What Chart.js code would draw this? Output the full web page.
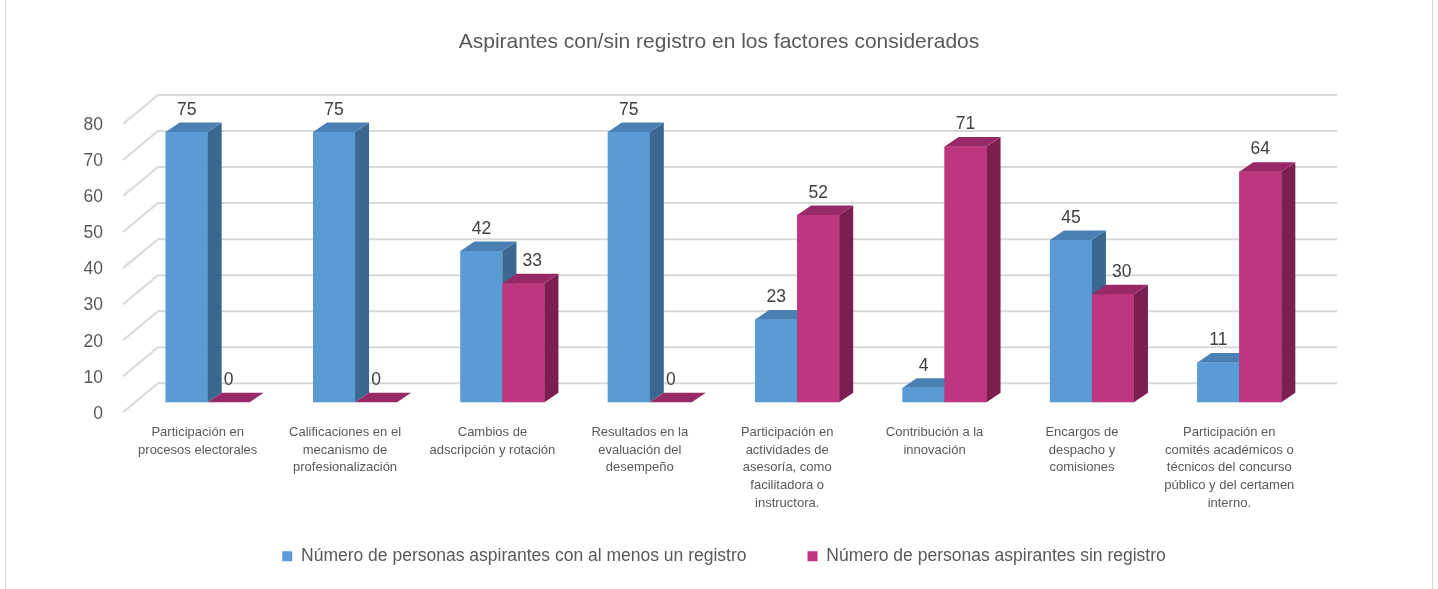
<!DOCTYPE html>
<html lang="es">
<head>
<meta charset="utf-8">
<title>Aspirantes con/sin registro en los factores considerados</title>
<script src="https://cdn.jsdelivr.net/npm/chart.js@4.4.1/dist/chart.umd.min.js"></script>
<style>
  html, body { margin: 0; padding: 0; background: #fff; overflow: hidden; }
  #frame { position: absolute; left: 5px; top: -2px; width: 1428px; height: 600px; border: 1px solid #d9d9d9; box-sizing: border-box; }
  #wrap { position: absolute; left: 0; top: 0; width: 1438px; height: 589px; }
</style>
</head>
<body>
<div id="frame"></div>
<div id="wrap"><canvas id="chart"></canvas></div>
<script>
// Factors (x categories), one multi-line label per bar group
const categories = [
  ['Participación en', 'procesos electorales'],
  ['Calificaciones en el', 'mecanismo de', 'profesionalización'],
  ['Cambios de', 'adscripción y rotación'],
  ['Resultados en la', 'evaluación del', 'desempeño'],
  ['Participación en', 'actividades de', 'asesoría, como', 'facilitadora o', 'instructora.'],
  ['Contribución a la', 'innovación'],
  ['Encargos de', 'despacho y', 'comisiones'],
  ['Participación en', 'comités académicos o', 'técnicos del concurso', 'público y del certamen', 'interno.']
];
const seriesNames = [
  'Número de personas aspirantes con al menos un registro',
  'Número de personas aspirantes sin registro'
];
const withRecord = [75, 75, 42, 75, 23, 4, 45, 11];
const withoutRecord = [0, 0, 33, 0, 52, 71, 30, 64];
const yMin = 0, yMax = 80, yStep = 10;

// styles
const FONT = "'Liberation Sans', Arial, Helvetica, sans-serif";
const TEXT = '#595959';
const shades = [
  { front: '#5b9bd5', side: '#3b6890', top: '#4a80b4' },
  { front: '#be3580', side: '#7a1f50', top: '#972a66' }
];
const DX = 14, DY = 9.5;                       // bar depth
const WALL_FRONT = { x: -11, y: 10 };          // floor front edge vs bar plane
const WALL_BACK = { x: 24, y: -19 };           // back wall vs bar plane

// let the multi-line category labels spill below the x box, nudge legend
const layoutFix = {
  id: 'layoutFix',
  afterLayout(chart) {
    chart.scales.x.bottom = chart.height;
    chart.legend.left += 10;
  }
};

// back wall gridlines with the diagonal floor/side edges
const wall3d = {
  id: 'wall3d',
  beforeDatasetsDraw(chart) {
    const { ctx, chartArea, scales: { y } } = chart;
    ctx.save();
    ctx.strokeStyle = '#d9d9d9';
    ctx.lineWidth = 2;
    y.ticks.forEach(t => {
      const py = y.getPixelForValue(t.value);
      ctx.beginPath();
      ctx.moveTo(chartArea.left + WALL_FRONT.x, py + WALL_FRONT.y);
      ctx.lineTo(chartArea.left + WALL_BACK.x, py + WALL_BACK.y);
      ctx.lineTo(chartArea.right + WALL_BACK.x, py + WALL_BACK.y);
      ctx.stroke();
    });
    ctx.restore();
  }
};

// redraw each group front-to-back so the 3D faces overlap correctly
const bars3d = {
  id: 'bars3d',
  afterDatasetsDraw(chart) {
    const { ctx } = chart;
    const metas = chart.data.datasets.map((_, i) => chart.getDatasetMeta(i));
    ctx.save();
    categories.forEach((_, idx) => {
      metas.forEach((meta, di) => {
        const bar = meta.data[idx];
        const c = shades[di];
        const l = bar.x - bar.width / 2, r = bar.x + bar.width / 2;
        const t = bar.y, b = bar.base;
        ctx.fillStyle = c.front;
        ctx.fillRect(l, t, r - l, b - t);
        ctx.fillStyle = c.side;
        ctx.beginPath();
        ctx.moveTo(r, t); ctx.lineTo(r + DX, t - DY); ctx.lineTo(r + DX, b - DY); ctx.lineTo(r, b);
        ctx.closePath(); ctx.fill();
        ctx.fillStyle = c.top;
        ctx.beginPath();
        ctx.moveTo(l, t); ctx.lineTo(l + DX, t - DY); ctx.lineTo(r + DX, t - DY); ctx.lineTo(r, t);
        ctx.closePath(); ctx.fill();
      });
    });
    // value labels; the right one steps aside when the left bar's side is in the way
    ctx.font = `17.5px ${FONT}`;
    ctx.fillStyle = '#404040';
    ctx.textAlign = 'center';
    ctx.textBaseline = 'middle';
    metas.forEach((meta, di) => {
      const vals = chart.data.datasets[di].data;
      meta.data.forEach((bar, i) => {
        let x = bar.x;
        if (di > 0) {
          const prev = metas[di - 1].data[i];
          const w = ctx.measureText(String(vals[i])).width;
          const sideRight = prev.x + prev.width / 2 + DX;
          if (prev.y < bar.y - DY && x - w / 2 < sideRight) x = sideRight + 6 + w / 2;
        }
        ctx.fillText(String(vals[i]), x, bar.y - DY - 12.5);
      });
    });
    ctx.restore();
  }
};

new Chart(document.getElementById('chart'), {
  type: 'bar',
  data: {
    labels: categories,
    datasets: [
      { label: seriesNames[0], data: withRecord, backgroundColor: shades[0].front,
        categoryPercentage: 0.57, barPercentage: 1.0 },
      { label: seriesNames[1], data: withoutRecord, backgroundColor: shades[1].front,
        categoryPercentage: 0.57, barPercentage: 1.0 }
    ]
  },
  options: {
    responsive: true,
    maintainAspectRatio: false,
    animation: false,
    layout: { padding: { left: 0, right: 0, top: 0, bottom: 14 } },
    plugins: {
      tooltip: { enabled: false },
      title: {
        display: true,
        text: 'Aspirantes con/sin registro en los factores considerados',
        color: TEXT,
        font: { family: FONT, size: 21, weight: 'normal', lineHeight: 1.2 },
        padding: { top: 29.4, bottom: 59.4 }
      },
      legend: {
        position: 'bottom',
        labels: {
          boxWidth: 10, boxHeight: 10, padding: 61,
          color: TEXT,
          font: { family: FONT, size: 17.5 }
        }
      }
    },
    scales: {
      x: {
        offset: true,
        grid: { display: false, drawTicks: false },
        border: { display: false },
        ticks: {
          color: TEXT,
          font: { family: FONT, size: 13, lineHeight: 1.37 },
          padding: 21, labelOffset: -10,
          maxRotation: 0, minRotation: 0, autoSkip: false
        },
        afterFit(s) { s.height = 84.25; }
      },
      y: {
        min: yMin, max: yMax,
        grid: { display: false, drawTicks: false },
        border: { display: false },
        ticks: {
          stepSize: yStep, color: TEXT,
          font: { family: FONT, size: 17.5 },
          padding: 31, labelOffset: 11.5
        },
        afterFit(s) { s.width = 134; }
      },
      yRight: {
        position: 'right', min: yMin, max: yMax,
        grid: { display: false, drawTicks: false },
        border: { display: false },
        ticks: { display: false },
        afterFit(s) { s.width = 125; }
      }
    }
  },
  plugins: [layoutFix, wall3d, bars3d]
});
</script>
</body>
</html>
